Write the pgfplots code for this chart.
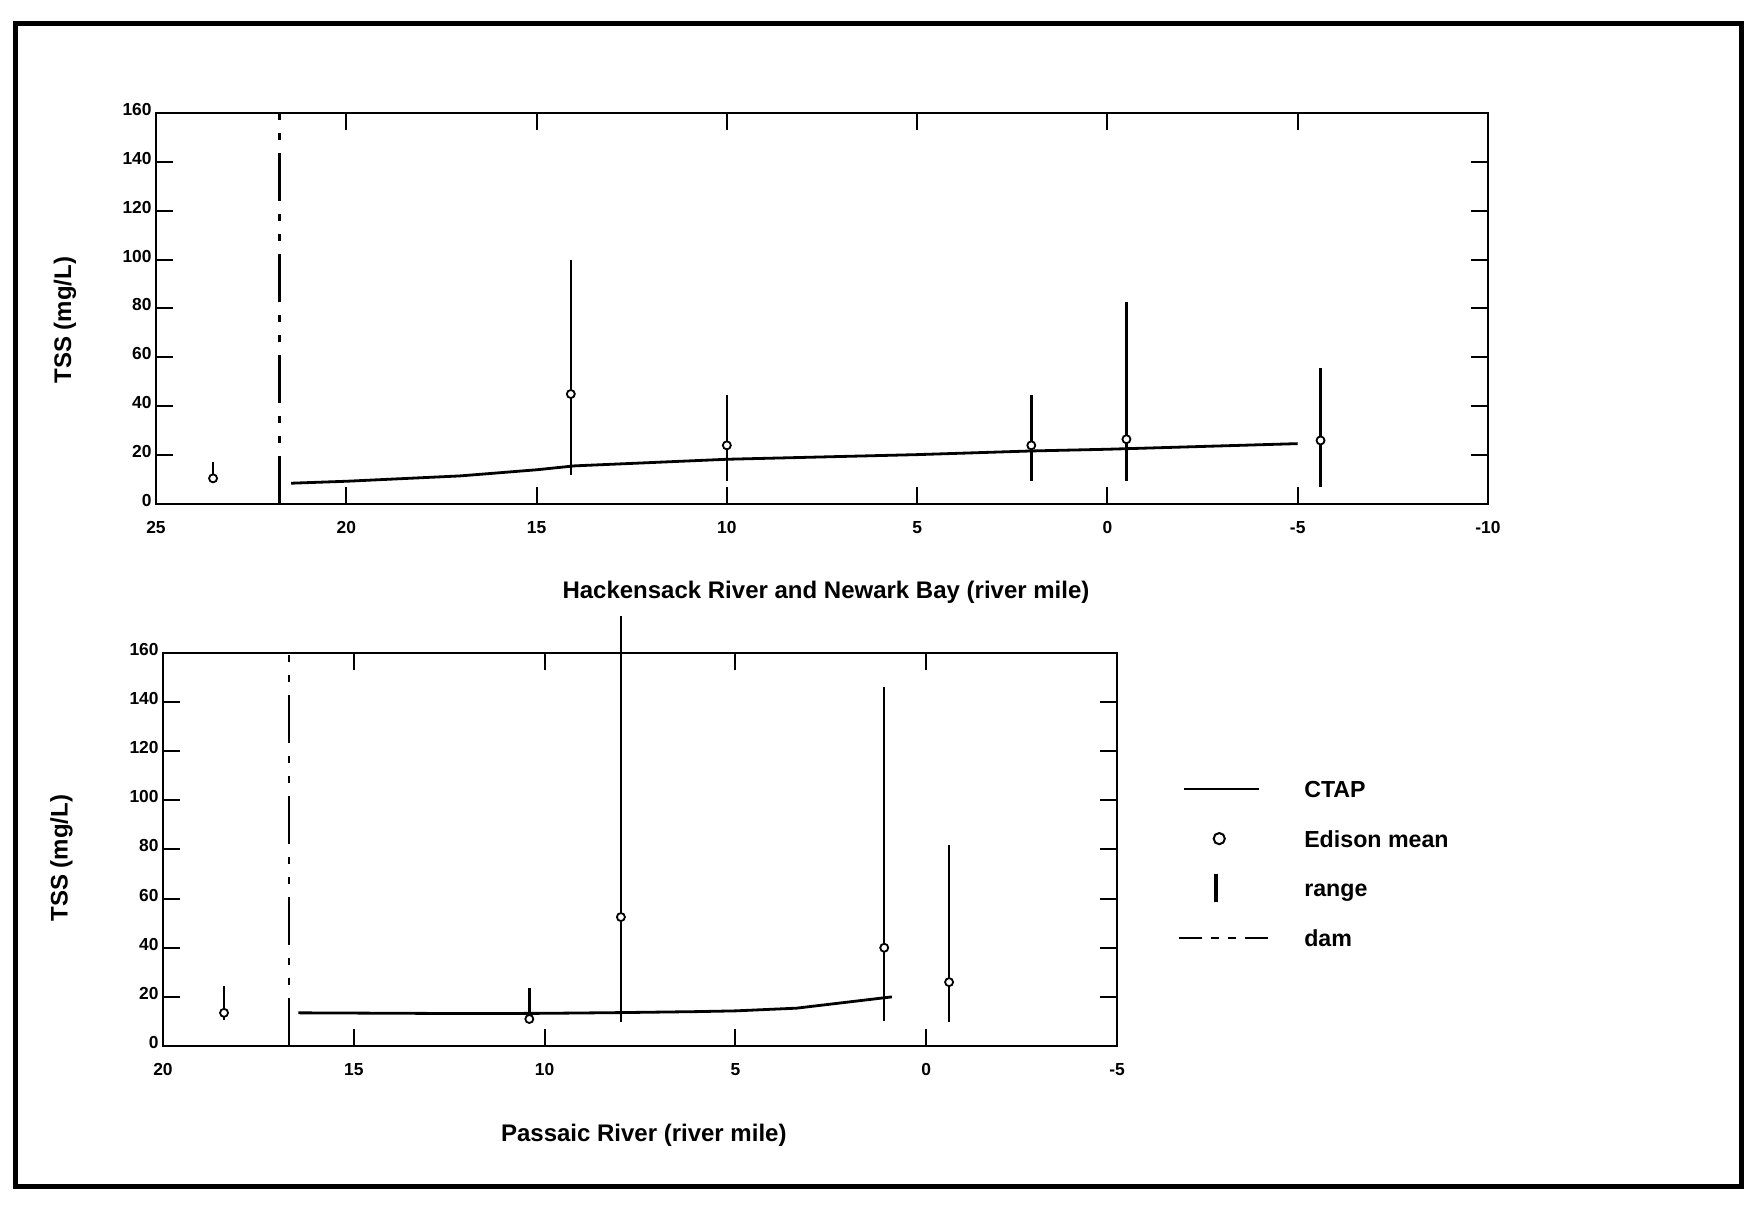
\documentclass[border=0pt]{standalone}
\usepackage{fontspec}
\setmainfont{Liberation Sans}
\usepackage{pgfplots}
\pgfplotsset{compat=1.18}
\usepackage{pgfplotstable}

% Hackensack River and Newark Bay: Edison mean and range
\pgfplotstableread{
x mean ep em
23.5 10.5 6.5 1.5
14.1 45 55 33
10.0 24 20.5 14.5
2.0 24 20.5 14.5
-0.5 26.5 56 17
-5.6 26 29.5 19
}\hackdata
% Hackensack CTAP
\pgfplotstableread{
x y
21.45 8.5
20.0 9.3
17.0 11.5
15.0 14.0
14.0 15.6
10.0 18.3
5.0 20.2
2.0 21.7
0.0 22.4
-5.0 24.7
}\hackctap
% Passaic River: Edison mean and range
\pgfplotstableread{
x mean ep em
18.4 13.5 11 3
10.4 11 12.5 1.5
8.0 52.5 122.5 42.8
1.1 40 106 30
-0.6 26 56 16.3
}\passdata
% Passaic CTAP
\pgfplotstableread{
x y
16.45 13.5
12.0 13.2
10.0 13.3
8.0 13.6
6.0 14.0
5.0 14.3
3.4 15.4
0.9 20.0
}\passctap

\pgfplotsset{
  tsscommon/.style={
    scale only axis, x dir=reverse,
    ymin=0, ymax=160, ytick={0,20,...,160},
    clip=false,
    axis line style={line width=1pt},
    every tick/.style={black, line width=1pt},
    major tick length=8.5pt,
    tick align=inside,
    xtick pos=both, ytick pos=both,
    xticklabel pos=lower, yticklabel pos=left,
    ticklabel style={font=\bfseries\fontsize{8.7}{9}\selectfont},
    /pgf/number format/assume math mode=true,
    xticklabel style={anchor=north, inner sep=0pt, yshift=-8.4pt},
    yticklabel style={anchor=east, inner sep=0pt, xshift=-2pt, yshift=1.8pt},
    label style={font=\bfseries\fontsize{12}{14}\selectfont},
    ylabel={TSS (mg/L)},
  },
  ctap/.style={black, line width=1.4pt, mark=none},
  rangebar/.style={black, only marks, mark=none, forget plot,
    error bars/.cd, y dir=both, y explicit, error mark=none,
    error bar style={line width=1.2pt, black}},
  meanpt/.style={black, only marks, mark=*, mark size=2pt,
    mark options={fill=white, draw=black, line width=0.9pt}},
  dam/.style={black, line width=1.2pt, mark=none,
    dash pattern=on 24pt off 6.5pt on 3.5pt off 6.5pt on 3.5pt off 6.5pt},
}

\begin{document}
\begin{tikzpicture}
\useasboundingbox (0,0) rectangle (877pt,602pt);
\draw[line width=2.5pt] (7.5pt,9pt) rectangle (870.5pt,590.25pt);

% ---------------- top: Hackensack River and Newark Bay ----------------
\begin{axis}[tsscommon,
  at={(78pt,350pt)}, anchor=south west,
  width=666pt, height=195.5pt,
  xmin=-10, xmax=25, xtick={-10,-5,...,25},
  xlabel={Hackensack River and Newark Bay (river mile)},
  xlabel style={at={(axis description cs:0.503,-0.225)}, anchor=center},
  ylabel style={at={(axis description cs:-0.0683,0.47)}, anchor=center},
]
\addplot[dam, forget plot] coordinates {(21.75,0) (21.75,160)};
\addplot[ctap, forget plot] table[x=x, y=y] {\hackctap};
\addplot[rangebar] table[x=x, y=mean, y error plus=ep, y error minus=em] {\hackdata};
\addplot[meanpt, forget plot] table[x=x, y=mean] {\hackdata};
\end{axis}

% ---------------- bottom: Passaic River ----------------
\begin{axis}[tsscommon,
  at={(81.5pt,79pt)}, anchor=south west,
  width=477pt, height=196.5pt,
  xmin=-5, xmax=20, xtick={-5,0,...,20},
  xlabel={Passaic River (river mile)},
  xlabel style={at={(axis description cs:0.504,-0.226)}, anchor=center},
  ylabel style={at={(axis description cs:-0.1064,0.478)}, anchor=center},
  legend style={at={(axis description cs:1.0639,0.717)}, anchor=north west,
    draw=none, fill=none, inner sep=0pt, outer sep=0pt,
    row sep=0pt, column sep=0pt,
    nodes={anchor=west, inner xsep=2.5pt, inner ysep=0pt,
      text height=8.4pt, text depth=0pt,
      font=\bfseries\fontsize{11.6}{13}\selectfont}},
]
\addplot[ctap, legend image code/.code={
    \path[draw=none, fill=none] (0pt,-12.4pt) rectangle (60pt,12.4pt);
    \draw[black, line width=1.4pt, solid] (2.5pt,0pt) -- (40pt,0pt);}]
  table[x=x, y=y] {\passctap};
\addlegendentry{CTAP}
\addplot[rangebar] table[x=x, y=mean, y error plus=ep, y error minus=em] {\passdata};
\addplot[meanpt, legend image code/.code={
    \path[draw=none, fill=none] (0pt,-12.4pt) rectangle (60pt,12.4pt);
    \draw[black, fill=white, line width=1pt, solid] (20pt,0pt) circle[radius=2.8pt];}]
  table[x=x, y=mean] {\passdata};
\addlegendentry{Edison mean}
\addlegendimage{legend image code/.code={
    \path[draw=none, fill=none] (0pt,-12.4pt) rectangle (60pt,12.4pt);
    \draw[black, line width=2pt, solid] (18.5pt,-7pt) -- (18.5pt,7pt);}}
\addlegendentry{range}
\addplot[dam, legend image code/.code={
    \path[draw=none, fill=none] (0pt,-12.4pt) rectangle (60pt,12.4pt);
    \draw[black, line width=1.3pt, dash pattern=on 11.5pt off 4.5pt on 4pt off 4.5pt on 4pt off 4.5pt] (0pt,0pt) -- (46.5pt,0pt);}]
  coordinates {(16.7,0) (16.7,160)};
\addlegendentry{dam}
\end{axis}
\end{tikzpicture}
\end{document}
